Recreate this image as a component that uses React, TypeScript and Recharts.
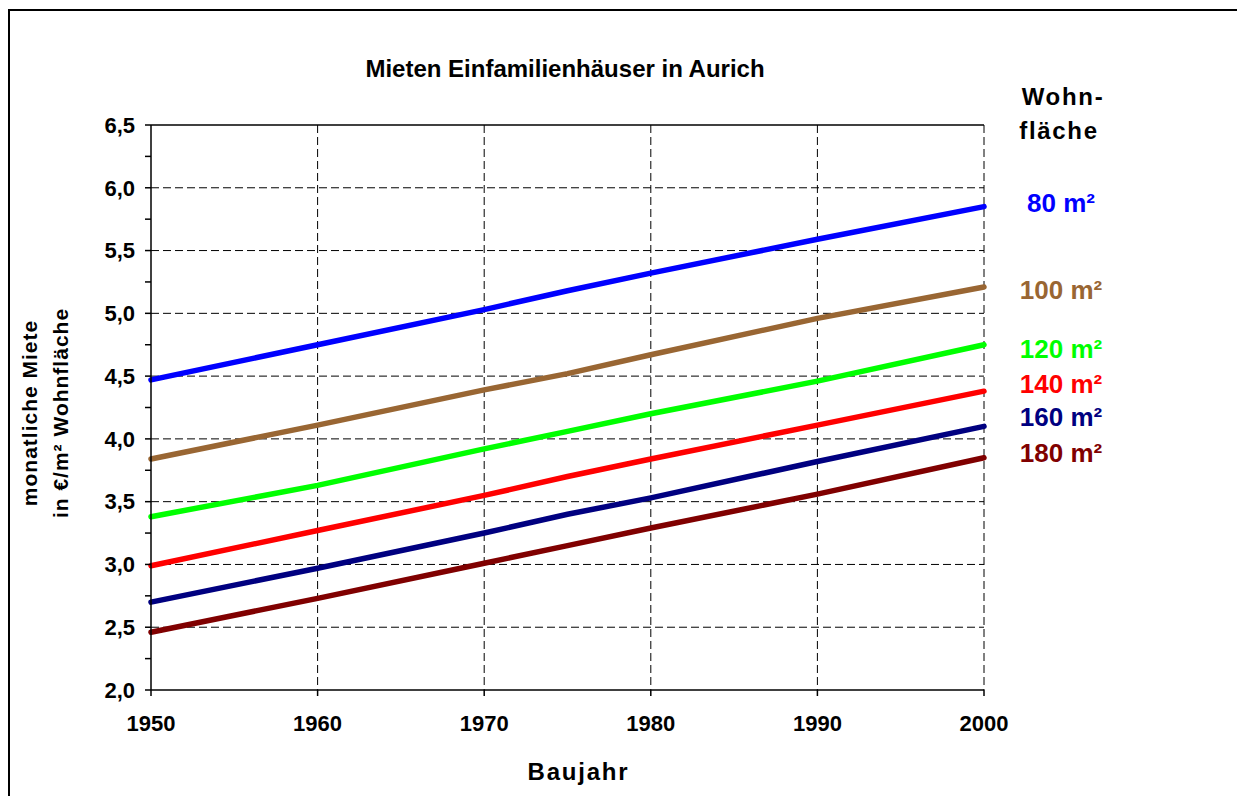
import React from "react";
import {
  LineChart,
  Line,
  XAxis,
  YAxis,
  CartesianGrid,
  ReferenceLine,
} from "recharts";

// Baujahr / monthly rent in €/m² per living-space class
const years = [1950, 1960, 1970, 1975, 1980, 1990, 2000];
const rent80 = [4.47, 4.75, 5.03, 5.18, 5.32, 5.59, 5.85];
const rent100 = [3.84, 4.11, 4.39, 4.52, 4.67, 4.96, 5.21];
const rent120 = [3.38, 3.63, 3.92, 4.06, 4.2, 4.46, 4.75];
const rent140 = [2.99, 3.27, 3.55, 3.7, 3.84, 4.11, 4.38];
const rent160 = [2.7, 2.97, 3.25, 3.4, 3.53, 3.82, 4.1];
const rent180 = [2.46, 2.73, 3.01, 3.15, 3.29, 3.56, 3.85];

const seriesNames = ["80 m²", "100 m²", "120 m²", "140 m²", "160 m²", "180 m²"];
const xTicks = [1950, 1960, 1970, 1980, 1990, 2000];
const yTicks = [
  2, 2.25, 2.5, 2.75, 3, 3.25, 3.5, 3.75, 4, 4.25, 4.5, 4.75, 5, 5.25, 5.5,
  5.75, 6, 6.25, 6.5,
];
const gridY = [2.5, 3, 3.5, 4, 4.5, 5, 5.5, 6];
const gridX = [1960, 1970, 1980, 1990, 2000];

const data = years.map((y, i) => ({
  year: y,
  s80: rent80[i],
  s100: rent100[i],
  s120: rent120[i],
  s140: rent140[i],
  s160: rent160[i],
  s180: rent180[i],
}));

const FONT = "'Liberation Sans', Arial, sans-serif";

const series = [
  { key: "s80", color: "#0000FF", dy: 5 },
  { key: "s100", color: "#996633", dy: 12 },
  { key: "s120", color: "#00FF00", dy: 13 },
  { key: "s140", color: "#FF0000", dy: 2 },
  { key: "s160", color: "#000080", dy: 0 },
  { key: "s180", color: "#800000", dy: 4 },
];

const fmtY = (v: number) =>
  Math.round(v * 2) === v * 2 ? v.toFixed(1).replace(".", ",") : "";

function EndLabel(props: any, name: string, color: string, dy: number) {
  const { x, y, index } = props;
  if (index !== years.length - 1 || x == null || y == null) return null;
  return (
    <text
      key={name}
      x={Number(x) + 77}
      y={Number(y) + dy}
      textAnchor="middle"
      fontFamily={FONT}
      fontWeight="bold"
      fontSize={26}
      fill={color}
    >
      {name}
    </text>
  );
}

function YLabel() {
  const cy = 413;
  return (
    <g fontFamily={FONT} fontWeight="bold" fontSize={21} fill="#000" letterSpacing={1}>
      <text transform={`translate(37, ${cy}) rotate(-90)`} textAnchor="middle">
        monatliche Miete
      </text>
      <text transform={`translate(68, ${cy}) rotate(-90)`} textAnchor="middle">
        in €/m² Wohnfläche
      </text>
    </g>
  );
}

export default function App() {
  return (
    <div
      style={{
        position: "absolute",
        left: 0,
        top: 0,
        width: 1237,
        height: 796,
        overflow: "hidden",
        background: "#fff",
      }}
    >
      {/* outer chart frame, cut off on the right and bottom */}
      <div
        style={{
          position: "absolute",
          left: 8,
          top: 9,
          width: 1300,
          height: 900,
          border: "2px solid #000",
        }}
      />
      <div style={{ position: "absolute", left: 0, top: 0 }}>
        <LineChart
          width={1237}
          height={796}
          data={data}
          margin={{ top: 125, right: 253, bottom: 76, left: 91 }}
        >
          <CartesianGrid
            horizontalValues={gridY}
            verticalValues={gridX}
            stroke="#000"
            strokeDasharray="8 4"
            strokeWidth={1}
          />
          <ReferenceLine y={6.5} stroke="#000" strokeWidth={1.5} />
          <XAxis
            dataKey="year"
            type="number"
            domain={[1950, 2000]}
            ticks={xTicks}
            tickSize={6}
            tickMargin={19}
            stroke="#000"
            strokeWidth={1.5}
            tick={{ fontFamily: FONT, fontWeight: "bold", fontSize: 22, fill: "#000" }}
            height={30}
            label={{
              value: "Baujahr",
              position: "insideBottom",
              offset: -60,
              dx: 11,
              style: {
                fontFamily: FONT,
                fontWeight: "bold",
                fontSize: 24,
                letterSpacing: 1.8,
                fill: "#000",
              },
            }}
          />
          <YAxis
            type="number"
            domain={[2, 6.5]}
            ticks={yTicks}
            tickFormatter={fmtY}
            interval={0}
            tickSize={6}
            tickMargin={10}
            width={60}
            stroke="#000"
            strokeWidth={1.5}
            tick={{ fontFamily: FONT, fontWeight: "bold", fontSize: 22, fill: "#000" }}
            label={<YLabel />}
          />
          {series.map((s, i) => (
            <Line
              key={s.key}
              type="linear"
              dataKey={s.key}
              stroke={s.color}
              strokeWidth={5.5}
              strokeLinecap="round"
              dot={false}
              activeDot={false}
              isAnimationActive={false}
              label={(p: any) => EndLabel(p, seriesNames[i], s.color, s.dy)}
            />
          ))}
        </LineChart>
      </div>
      <svg
        width={1237}
        height={796}
        style={{ position: "absolute", left: 0, top: 0, pointerEvents: "none" }}
      >
        <text
          x={565}
          y={77}
          textAnchor="middle"
          fontFamily={FONT}
          fontWeight="bold"
          fontSize={24}
          fill="#000"
        >
          Mieten Einfamilienhäuser in Aurich
        </text>
        <g fontFamily={FONT} fontWeight="bold" fontSize={24} fill="#000" letterSpacing={1.7}>
          <text x={1063} y={105} textAnchor="middle">
            Wohn-
          </text>
          <text x={1059} y={139} textAnchor="middle">
            fläche
          </text>
        </g>
      </svg>
    </div>
  );
}
